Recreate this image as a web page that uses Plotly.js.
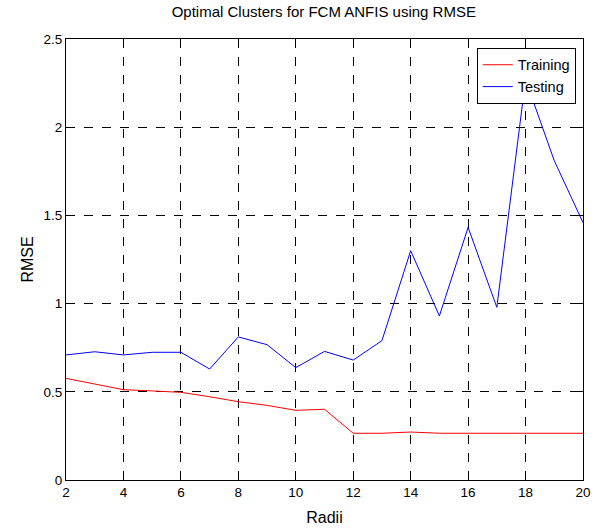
<!DOCTYPE html>
<html>
<head>
<meta charset="utf-8">
<script src="https://cdn.plot.ly/plotly-3.0.1.min.js"></script>
<style>html,body{margin:0;padding:0;background:#fff;}#chart{width:603px;height:531px;}</style>
</head>
<body>
<div id="chart"></div>
<script>
const radii = [2,3,4,5,6,7,8,9,10,11,12,13,14,15,16,17,18,19,20];
const training = [0.576,0.546,0.512,0.505,0.497,0.472,0.444,0.423,0.395,0.401,0.265,0.265,0.272,0.265,0.265,0.265,0.265,0.265,0.265];
const testing = [0.709,0.727,0.709,0.724,0.724,0.629,0.811,0.767,0.637,0.729,0.680,0.790,1.300,0.930,1.432,0.979,2.27,1.81,1.459];
const xTicks = [2,4,6,8,10,12,14,16,18,20];
const yTicks = [0,0.5,1,1.5,2,2.5];

const font = 'Arial, "Liberation Sans", sans-serif';
const traces = [
  {x: radii, y: training, type: 'scatter', mode: 'lines', name: 'Training', line: {color: '#ff0000', width: 1}},
  {x: radii, y: testing, type: 'scatter', mode: 'lines', name: 'Testing', line: {color: '#0000ff', width: 1}}
];
const axisCommon = {
  showline: true, linecolor: '#000', linewidth: 1, mirror: 'ticks',
  ticks: 'inside', ticklen: 5, tickcolor: '#000',
  showgrid: true, gridcolor: '#000', gridwidth: 1, griddash: 'dash',
  zeroline: false, tickfont: {family: font, size: 13.5, color: '#000'}
};
const layout = {
  width: 603, height: 531,
  margin: {l: 66, r: 20, t: 39, b: 51},
  paper_bgcolor: '#fff', plot_bgcolor: '#fff',
  font: {family: font, color: '#000'},
  title: {text: 'Optimal Clusters for FCM ANFIS using RMSE', font: {family: font, size: 15, color: '#000'}, x: 0.537, xanchor: 'center', y: 0.978, yanchor: 'middle'},
  xaxis: Object.assign({}, axisCommon, {range: [2, 20], tickvals: xTicks, ticktext: xTicks.map(String),
    title: {text: 'Radii', font: {family: font, size: 16, color: '#000'}, standoff: 12}}),
  yaxis: Object.assign({}, axisCommon, {range: [0, 2.5], tickvals: yTicks, ticktext: yTicks.map(String),
    title: {text: 'RMSE', font: {family: font, size: 16, color: '#000'}, standoff: 5}}),
  legend: {x: 0.986, xanchor: 'right', y: 0.98, yanchor: 'top', bgcolor: '#fff', bordercolor: '#000', borderwidth: 1,
    font: {family: font, size: 14.5, color: '#000'}, tracegroupgap: 0},
  showlegend: true
};
Plotly.newPlot('chart', traces, layout, {displayModeBar: false, staticPlot: true});
</script>
</body>
</html>
